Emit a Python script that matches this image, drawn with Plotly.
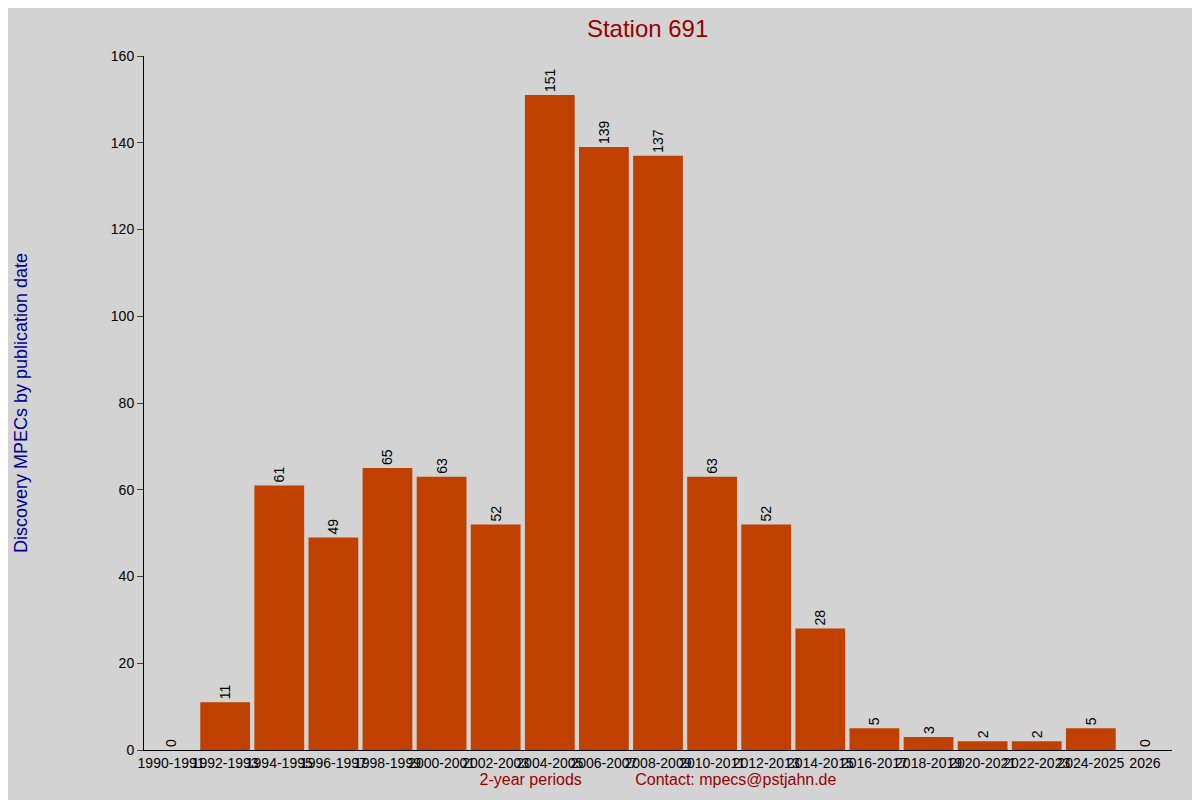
import plotly.graph_objects as go

periods = ["1990-1991", "1992-1993", "1994-1995", "1996-1997", "1998-1999", "2000-2001",
           "2002-2003", "2004-2005", "2006-2007", "2008-2009", "2010-2011", "2012-2013",
           "2014-2015", "2016-2017", "2018-2019", "2020-2021", "2022-2023", "2024-2025", "2026"]
counts = [0, 11, 61, 49, 65, 63, 52, 151, 139, 137, 63, 52, 28, 5, 3, 2, 2, 5, 0]


def main():
    fig = go.Figure()
    fig.add_trace(go.Bar(
        x=periods, y=counts, marker_color="#c04000", marker_line_width=0,
        text=[str(c) for c in counts], textposition="outside", textangle=-90,
        textfont=dict(size=14, color="black"), cliponaxis=False,
    ))
    fig.update_layout(
        width=1200, height=800,
        paper_bgcolor="#d3d3d3", plot_bgcolor="#d3d3d3",
        font=dict(family="Liberation Sans, Arial", size=14, color="black"),
        title=dict(text="Station 691", x=0.533, y=0.985, font=dict(size=24, color="#990000")),
        margin=dict(l=119, r=36, t=48, b=58),
        bargap=0.08, showlegend=False,
        xaxis=dict(showline=True, linecolor="black", ticks="", showgrid=False,
                   tickangle=0, tickfont=dict(size=14),
                   title=dict(text="2-year periods            Contact: mpecs@pstjahn.de",
                              font=dict(size=16, color="#990000"), standoff=2)),
        yaxis=dict(range=[0, 160], dtick=20, showline=True, linecolor="black",
                   ticks="outside", ticklen=6, showgrid=False, zeroline=False,
                   title=dict(text="Discovery MPECs by publication date",
                              font=dict(size=18, color="#000099"), standoff=78)),
    )
    fig.write_html("out.html")


if __name__ == '__main__':
    main()
